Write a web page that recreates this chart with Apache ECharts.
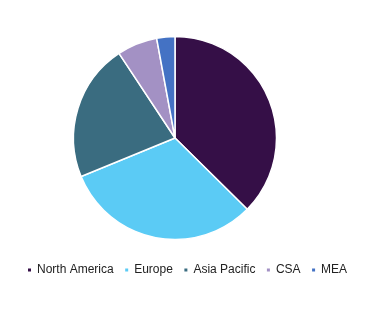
<!DOCTYPE html>
<html><head><meta charset="utf-8">
<script src="https://cdn.jsdelivr.net/npm/echarts@6/dist/echarts.min.js"></script>
<style>html,body{margin:0;padding:0;background:#fff}#c{width:371px;height:310px}</style>
</head><body><div id="c"></div>
<script>
const categories = ["North America", "Europe", "Asia Pacific", "CSA", "MEA"];
const values = [37.4, 31.4, 21.9, 6.4, 2.9];
const colors = ["#350f47", "#5bcbf5", "#3a6c80", "#a391c4", "#4472c4"];
const chart = echarts.init(document.getElementById('c'));
chart.setOption({
  animation: false,
  color: colors,
  legend: {
    bottom: 34,
    left: 26,
    icon: 'rect',
    itemWidth: 5,
    itemHeight: 5,
    itemGap: 9.5,
    padding: 0,
    textStyle: {fontFamily: 'Liberation Sans, Arial', fontSize: 12, color: '#222'},
    data: categories
  },
  series: [{
    type: 'pie',
    center: [175, 138],
    radius: 101.5,
    startAngle: 90,
    clockwise: true,
    label: {show: false},
    labelLine: {show: false},
    itemStyle: {borderColor: '#fff', borderWidth: 1.5},
    emphasis: {disabled: true},
    data: categories.map((n, i) => ({name: n, value: values[i]}))
  }]
});
</script></body></html>
